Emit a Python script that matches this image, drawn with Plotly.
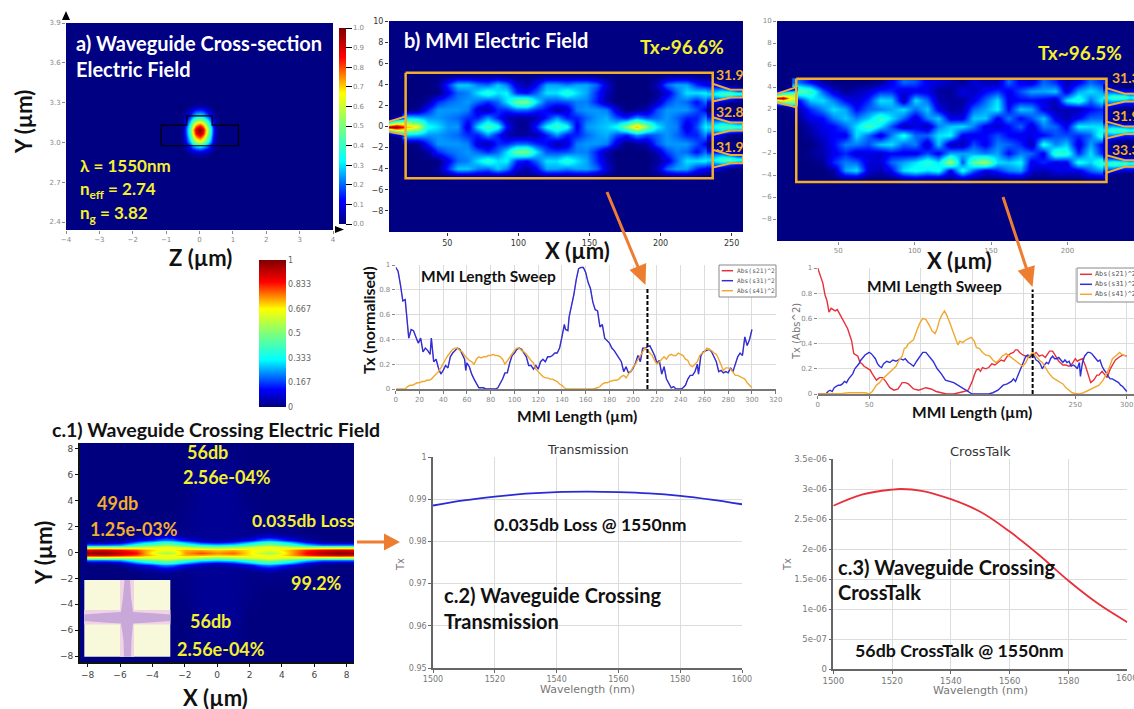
import plotly.graph_objects as go

W, H = 1134, 709
FONT = "Lato"
TICKF = "DejaVu Sans"
NAVY = "#000082"
YEL = "#f4f02a"
ORG = "#f2ad2a"
ARROW = "#ed7d31"

JET = [[0, "#00007f"], [0.12, "#0000ff"], [0.32, "#00ffff"], [0.5, "#7dff7a"],
       [0.667, "#ffff00"], [0.85, "#ff0000"], [1, "#7f0000"]]

# ---------- panel a: mode profile, percent ----------
A_Z = [-0.6, -0.5, -0.4, -0.3, -0.2, -0.1, 0, 0.1, 0.2, 0.3, 0.4, 0.5, 0.6]
A_Y = [3.28, 3.25, 3.22, 3.19, 3.16, 3.13, 3.10, 3.07, 3.04, 3.01, 2.98, 2.95, 2.92, 2.89]
A_F = [
    [0, 0, 0, 0, 1, 2, 2, 2, 1, 0, 0, 0, 0],
    [0, 0, 2, 5, 9, 12, 13, 12, 9, 5, 2, 0, 0],
    [0, 1, 4, 10, 17, 23, 25, 23, 17, 10, 4, 1, 0],
    [0, 2, 7, 16, 27, 34, 38, 34, 27, 16, 7, 2, 0],
    [0, 3, 11, 26, 43, 56, 62, 56, 43, 26, 11, 3, 0],
    [0, 3, 15, 35, 58, 75, 83, 75, 58, 35, 15, 3, 0],
    [0, 4, 18, 42, 70, 90, 100, 90, 70, 42, 18, 4, 0],
    [0, 4, 17, 40, 67, 86, 95, 86, 67, 40, 17, 4, 0],
    [0, 3, 14, 34, 56, 72, 80, 72, 56, 34, 14, 3, 0],
    [0, 3, 12, 27, 45, 58, 65, 58, 45, 27, 12, 3, 0],
    [0, 1, 6, 15, 25, 32, 36, 32, 25, 15, 6, 1, 0],
    [0, 1, 3, 8, 13, 16, 18, 16, 13, 8, 3, 1, 0],
    [0, 0, 1, 3, 4, 5, 6, 5, 4, 3, 1, 0, 0],
    [0, 0, 0, 0, 0, 1, 1, 1, 0, 0, 0, 0, 0],
]
WG_Z = [-1.15, -1.15, -0.38, -0.38, 0.38, 0.38, 1.17, 1.17, -1.15]
WG_Y = [2.975, 3.13, 3.13, 3.2, 3.2, 3.13, 3.13, 2.975, 2.975]

# ---------- panel b: symmetric MMI field, percent ----------
B_X = [22, 29, 36, 43, 50, 57, 64, 71, 78, 85, 92, 99, 106, 113, 120, 127, 134, 141, 148, 155,
       162, 169, 176, 183, 190, 197, 204, 211, 218, 225, 232, 236]
B_Y = [4.8, 4.0, 3.2, 2.4, 1.6, 0.8, 0]
B_F = [
    [0, 0, 0, 0, 1, 2, 2, 2, 2, 2, 1, 1, 1, 1, 2, 2, 2, 2, 2, 1, 0, 0, 0, 0, 0, 0, 1, 2, 2, 1, 1, 0],
    [0, 0, 0, 2, 15, 28, 28, 22, 20, 28, 22, 8, 4, 12, 25, 25, 22, 25, 25, 20, 8, 0, 0, 0, 0, 5, 20, 25, 25, 15, 10, 5],
    [0, 0, 0, 0, 10, 20, 22, 30, 38, 30, 32, 15, 12, 20, 30, 30, 38, 30, 25, 15, 5, 0, 0, 0, 0, 2, 8, 20, 30, 30, 32, 28],
    [0, 0, 3, 15, 20, 22, 24, 20, 15, 20, 30, 48, 50, 30, 18, 17, 18, 22, 22, 14, 4, 0, 0, 0, 0, 5, 17, 22, 20, 12, 22, 30],
    [0, 2, 14, 24, 24, 24, 22, 8, 5, 15, 15, 20, 20, 15, 12, 4, 8, 22, 24, 24, 22, 8, 0, 2, 5, 18, 24, 24, 24, 18, 10, 10],
    [30, 28, 24, 24, 22, 20, 15, 14, 24, 14, 5, 3, 3, 5, 14, 24, 14, 14, 20, 24, 26, 18, 14, 24, 18, 20, 24, 20, 14, 14, 25, 25],
    [72, 64, 34, 30, 24, 24, 8, 30, 42, 35, 12, 2, 2, 15, 33, 40, 35, 10, 24, 26, 28, 34, 52, 72, 52, 32, 24, 22, 8, 18, 34, 35],
]
B_IN_X = [9, 14, 19, 21]
B_IN_Y = [0.8, 0.4, 0]
B_IN_F = [[0, 5, 15, 20], [30, 50, 55, 60], [95, 100, 85, 75]]
B_OUT_X = [236, 243, 249, 254, 258]
B_OUT_Y = [4.0, 3.5, 3.1, 2.7, 2.3, 1.6, 0.8, 0.4, 0]
B_OUT_F = [
    [10, 5, 0, 0, 0], [22, 25, 20, 12, 10], [30, 42, 45, 38, 40], [22, 25, 20, 12, 10], [10, 5, 0, 0, 0],
    [0, 0, 0, 0, 0], [15, 8, 0, 0, 0], [25, 30, 25, 20, 20], [30, 42, 42, 38, 42],
]
B_RECT_X = [20.7, 236.7, 236.7, 20.7, 20.7]
B_RECT_Y = [5.1, 5.1, -4.9, -4.9, 5.1]
B_TAPER_X = [[9, 20.7], [9, 20.7]]
B_TAPER_Y = [[0.47, 0.95], [-0.47, -0.8]]
B_PORT_X = [236.7, 249.1, 258, 258, 249.1, 236.7]
B_PORT_Y = [[4.05, 3.48, 3.48, 2.75, 2.75, 2.37], [0.88, 0.38, 0.38, -0.38, -0.38, -0.8],
            [-2.2, -2.7, -2.7, -3.48, -3.48, -3.9]]

# ---------- panel b2: asymmetric MMI field, percent ----------
R_X = [24, 32, 39.4, 47, 54.6, 62, 70, 77.5, 85, 92.7, 100.4, 108, 115.6, 123.3, 131, 138.5, 146,
       153.8, 161.4, 169, 176.6, 184.2, 191.8, 199.5, 207, 214.8, 222.4]
R_Y = [4.4, 3.6, 2.8, 2.0, 1.2, 0.4, -0.4, -1.2, -2.0, -2.8, -3.6, -4.4]
R_F = [
    [20, 12, 3, 0, 0, 0, 0, 2, 10, 20, 18, 10, 8, 5, 2, 8, 5, 5, 20, 10, 8, 20, 15, 5, 10, 20, 15],
    [45, 40, 20, 8, 2, 5, 8, 15, 15, 8, 10, 10, 3, 2, 10, 6, 12, 16, 10, 18, 25, 25, 28, 8, 25, 30, 25],
    [12, 28, 30, 22, 12, 8, 15, 30, 28, 5, 30, 20, 5, 3, 3, 10, 20, 30, 10, 12, 12, 10, 5, 30, 38, 20, 32],
    [5, 15, 22, 30, 25, 12, 20, 22, 25, 30, 20, 28, 10, 3, 5, 20, 25, 32, 12, 28, 25, 10, 5, 5, 5, 12, 15],
    [2, 10, 12, 22, 28, 22, 28, 40, 30, 20, 8, 22, 28, 10, 10, 28, 28, 10, 22, 12, 18, 28, 10, 5, 12, 20, 20],
    [0, 5, 10, 12, 20, 30, 42, 30, 18, 5, 10, 5, 22, 28, 30, 22, 10, 8, 12, 20, 8, 22, 20, 10, 32, 30, 30],
    [0, 3, 8, 12, 10, 30, 20, 8, 22, 35, 20, 20, 30, 32, 10, 10, 12, 18, 12, 10, 10, 12, 18, 18, 15, 20, 38],
    [0, 0, 5, 12, 22, 22, 18, 28, 30, 20, 22, 6, 28, 5, 5, 18, 10, 22, 20, 15, 5, 35, 22, 28, 8, 25, 12],
    [0, 2, 5, 10, 15, 8, 10, 8, 12, 10, 10, 18, 10, 25, 25, 25, 22, 25, 12, 22, 20, 10, 40, 38, 15, 30, 15],
    [0, 0, 2, 15, 22, 20, 8, 8, 20, 25, 30, 38, 30, 55, 18, 45, 55, 30, 28, 32, 10, 15, 10, 10, 35, 28, 40],
    [0, 0, 0, 3, 25, 30, 8, 5, 12, 30, 35, 30, 35, 10, 35, 20, 10, 15, 22, 25, 8, 5, 10, 10, 10, 20, 25],
    [0, 0, 0, 0, 2, 2, 0, 0, 0, 3, 5, 3, 2, 2, 5, 2, 0, 0, 2, 2, 0, 0, 0, 0, 0, 3, 3],
]
R_IN_X = [10, 14, 18, 22]
R_IN_Y = [3.8, 3.4, 3.0, 2.6, 2.2]
R_IN_F = [[0, 0, 5, 10], [30, 45, 50, 50], [88, 95, 70, 60], [30, 45, 50, 50], [0, 0, 5, 10]]
R_OUT_X = [225.5, 230, 237, 241, 245]
R_OUT_Y = [4.0, 3.5, 3.04, 2.6, 2.1, 0.9, 0.5, 0.05, -0.4, -0.9, -2.2, -2.6, -2.96, -3.4, -3.8]
R_OUT_F = [
    [8, 3, 0, 0, 0], [22, 22, 15, 15, 15], [32, 40, 42, 32, 38], [22, 22, 15, 15, 15], [8, 3, 0, 0, 0],
    [8, 3, 0, 0, 0], [22, 22, 15, 15, 15], [32, 42, 42, 35, 38], [22, 22, 15, 15, 15], [8, 3, 0, 0, 0],
    [8, 3, 0, 0, 0], [22, 22, 15, 15, 15], [35, 42, 44, 35, 40], [22, 22, 15, 15, 15], [8, 3, 0, 0, 0],
]
R_RECT_X = [22.6, 225.5, 225.5, 22.6, 22.6]
R_RECT_Y = [4.75, 4.75, -4.63, -4.63, 4.75]
R_TAPER_X = [[10, 22.6], [10, 22.6]]
R_TAPER_Y = [[3.38, 3.99], [2.59, 2.16]]
R_PORT_X = [225.5, 237.5, 245, 245, 237.5, 225.5]
R_PORT_Y = [[3.9, 3.38, 3.38, 2.68, 2.68, 2.3], [0.85, 0.4, 0.4, -0.27, -0.27, -0.67],
            [-2.2, -2.65, -2.65, -3.26, -3.26, -3.8]]

# ---------- MMI length sweeps ----------
L_BLUE = [(0,.98),(2,.95),(4,.84),(6,.71),(8,.72),(10,.52),(11,.41),(13,.48),(15,.47),(17,.42),(19,.37),(21,.41),
 (23,.30),(25,.33),(27,.31),(29,.28),(30,.41),(32,.22),(34,.24),(36,.17),(38,.12),(40,.15),(42,.19),(44,.17),(46,.26),
 (48,.29),(50,.31),(52,.33),(54,.32),(56,.28),(58,.24),(59,.15),(60,.21),(62,.18),(64,.12),(66,.08),(68,.04),(70,.01),
 (72,.01),(74,.01),(76,0),(80,0),(84,0),(86,.01),(88,.04),(90,.08),(92,.13),(94,.13),(96,.21),(98,.27),(100,.29),
 (102,.32),(104,.33),(106,.32),(108,.29),(110,.26),(112,.19),(114,.19),(116,.16),(118,.19),(120,.16),(122,.22),(124,.24),
 (126,.22),(128,.26),(130,.26),(132,.27),(134,.29),(136,.29),(138,.33),(140,.42),(142,.52),(143,.48),(145,.47),(146,.58),
 (148,.66),(150,.76),(152,.88),(154,.97),(156,.98),(158,.98),(160,.94),(162,.86),(164,.81),(166,.70),(168,.64),(170,.63),
 (172,.50),(174,.52),(176,.41),(178,.39),(180,.37),(182,.33),(184,.31),(186,.28),(188,.25),(190,.22),(192,.14),(194,.18),
 (196,.13),(198,.14),(200,.17),(202,.21),(204,.27),(206,.22),(208,.33),(210,.33),(212,.34),(214,.35),(216,.31),(218,.27),
 (220,.21),(222,.23),(224,.12),(226,.18),(228,.08),(230,.04),(232,.01),(234,.02),(236,0),(240,0),(242,.01),(244,.03),
 (246,.08),(248,.11),(250,.11),(252,.14),(254,.2),(255,.12),(257,.27),(259,.3),(262,.31),(264,.32),(266,.3),(268,.26),
 (270,.22),(272,.14),(274,.15),(276,.13),(278,.14),(280,.13),(282,.17),(284,.14),(286,.21),(288,.26),(290,.29),(292,.27),
 (294,.42),(296,.35),(298,.40),(300,.48)]
L_ORANGE = [(0,0),(8,0),(10,.02),(12,.03),(14,.03),(16,.04),(18,.05),(20,.05),(22,.06),(24,.06),(26,.07),(28,.07),(30,.08),
 (32,.1),(34,.12),(36,.14),(38,.17),(40,.21),(42,.24),(44,.27),(46,.3),(48,.32),(50,.33),(52,.33),(54,.31),(56,.3),(58,.27),
 (60,.25),(62,.23),(64,.22),(66,.2),(68,.24),(70,.26),(72,.25),(74,.26),(76,.26),(78,.27),(80,.27),(82,.28),(84,.27),(86,.27),
 (88,.26),(90,.24),(92,.2),(94,.23),(96,.26),(98,.29),(100,.31),(102,.33),(104,.33),(106,.31),(108,.3),(110,.28),(112,.25),
 (114,.23),(116,.21),(118,.16),(120,.14),(122,.12),(124,.1),(126,.09),(128,.09),(130,.08),(132,.08),(134,.07),(136,.06),
 (138,.04),(140,.03),(142,.01),(144,0),(150,0),(160,0),(166,0),(170,.01),(172,.02),(174,.04),(176,.05),(178,.05),(180,.06),
 (184,.07),(186,.07),(188,.08),(190,.1),(192,.11),(194,.09),(196,.12),(198,.14),(200,.18),(202,.2),(204,.24),(206,.27),
 (208,.31),(210,.33),(212,.31),(214,.29),(216,.27),(218,.23),(220,.2),(222,.22),(224,.24),(226,.26),(228,.24),(230,.27),
 (232,.28),(234,.27),(236,.27),(238,.29),(240,.28),(242,.27),(244,.24),(246,.23),(248,.19),(250,.18),(252,.2),(254,.22),
 (256,.27),(258,.29),(260,.3),(262,.33),(264,.32),(266,.31),(268,.29),(270,.28),(272,.24),(274,.19),(276,.15),(278,.17),
 (280,.17),(282,.16),(284,.13),(286,.11),(288,.11),(290,.1),(292,.09),(294,.08),(296,.05),(298,.03),(300,.01)]
S_RED = [(0,1.0),(3,.93),(5,.88),(7,.79),(9,.74),(11,.65),(13,.68),(15,.67),(17,.66),(19,.67),(21,.64),(23,.62),(25,.58),
 (27,.55),(29,.52),(31,.47),(33,.42),(35,.32),(37,.31),(39,.3),(41,.25),(43,.24),(45,.22),(47,.21),(49,.2),(51,.19),(53,.16),
 (55,.13),(57,.11),(60,.13),(63,.13),(66,.1),(70,.05),(74,.03),(78,.04),(82,.09),(85,.09),(88,.08),(93,.04),(98,.03),(105,.05),
 (110,.04),(115,.02),(120,.01),(125,0),(132,0),(138,.01),(142,.02),(146,.03),(148,.06),(150,.1),(152,.15),(154,.19),(156,.2),
 (158,.18),(160,.21),(163,.2),(166,.21),(169,.24),(172,.23),(175,.25),(178,.27),(181,.26),(184,.3),(187,.32),(190,.33),(192,.35),
 (194,.35),(196,.33),(199,.31),(202,.3),(205,.29),(209,.31),(212,.33),(215,.3),(218,.31),(221,.29),(225,.34),(228,.34),(231,.3),
 (234,.26),(238,.23),(241,.23),(244,.22),(247,.24),(250,.28),(252,.26),(254,.27),(257,.28),(260,.22),(262,.17),(265,.09),
 (268,.11),(271,.15),(273,.15),(276,.18),(279,.15),(281,.13),(284,.2),(287,.25),(289,.27),(292,.29),(296,.31),(300,.3)]
S_BLUE = [(0,0),(8,0),(10,.02),(12,.03),(14,.02),(16,.05),(18,.06),(20,.07),(22,.07),(24,.08),(26,.1),(28,.09),(30,.12),
 (32,.14),(34,.16),(36,.2),(38,.22),(40,.24),(42,.27),(44,.29),(46,.31),(48,.32),(50,.33),(52,.32),(54,.3),(56,.28),(58,.24),
 (60,.22),(62,.21),(64,.24),(67,.26),(70,.25),(73,.27),(76,.26),(80,.28),(83,.27),(85,.28),(88,.25),(90,.24),(93,.22),(96,.26),
 (99,.3),(102,.33),(105,.33),(108,.3),(112,.26),(116,.2),(120,.16),(124,.11),(128,.1),(132,.09),(136,.07),(140,.05),(144,.03),
 (148,.01),(150,0),(166,0),(170,.01),(175,.03),(180,.07),(184,.08),(188,.1),(190,.12),(192,.1),(194,.14),(196,.18),(198,.22),
 (200,.25),(202,.3),(204,.31),(206,.29),(208,.32),(210,.3),(212,.27),(214,.26),(216,.24),(218,.2),(220,.23),(222,.25),(224,.24),
 (226,.28),(228,.3),(230,.28),(232,.28),(234,.29),(236,.27),(238,.25),(240,.27),(242,.25),(244,.26),(246,.22),(248,.23),(250,.22),
 (252,.2),(254,.25),(255,.14),(257,.25),(259,.3),(262,.33),(264,.33),(266,.32),(268,.3),(270,.28),(272,.26),(274,.27),(276,.22),
 (278,.19),(280,.17),(282,.14),(284,.12),(286,.12),(288,.11),(290,.1),(292,.09),(294,.07),(296,.06),(298,.04),(300,.02)]
S_ORANGE = [(0,0),(18,0),(24,.005),(30,.01),(38,.01),(46,.01),(50,0),(53,.02),(57,.07),(60,.09),(63,.12),(67,.15),(70,.17),
 (73,.2),(76,.22),(79,.27),(82,.3),(84,.36),(86,.37),(88,.4),(90,.41),(93,.43),(96,.5),(99,.56),(102,.6),(105,.59),(108,.55),
 (111,.5),(114,.48),(116,.52),(118,.58),(120,.62),(123,.66),(125,.63),(128,.57),(131,.5),(134,.44),(136,.39),(138,.42),(141,.41),
 (144,.43),(147,.44),(149,.45),(152,.42),(154,.37),(157,.36),(160,.33),(163,.31),(167,.3),(170,.27),(173,.25),(176,.27),(179,.3),
 (183,.32),(186,.3),(189,.28),(192,.26),(195,.24),(199,.22),(202,.25),(205,.3),(209,.33),(212,.3),(215,.27),(218,.25),(221,.21),
 (224,.17),(228,.13),(232,.11),(235,.09),(238,.08),(241,.05),(244,.03),(247,.01),(250,.005),(254,0),(258,.01),(263,.03),(268,.05),
 (273,.07),(277,.11),(281,.17),(284,.23),(286,.28),(289,.3),(293,.33),(296,.31),(300,.3)]
MARK_L = 212
MARK_R = 208.6

# ---------- waveguide crossing field (symmetric about y=0), percent ----------
C_X = [-8.02, -8, -7, -6, -5, -4.5, -4, -3.5, -3.2, -2.8, -2, -1, 0, 1, 2, 2.8, 3.2, 3.6, 4.5, 5.5, 6.5, 7.5, 8.45]
C_Y = [0, 0.2, 0.4, 0.6, 0.8, 1.0, 1.3, 1.6, 3, 5, 8.4]
C_F = [
    [0, 98, 100, 92, 85, 75, 66, 58, 55, 56, 74, 80, 75, 78, 68, 58, 55, 58, 72, 85, 95, 100, 98],
    [0, 88, 90, 85, 80, 74, 70, 66, 65, 66, 72, 73, 70, 72, 68, 65, 63, 65, 72, 82, 87, 90, 88],
    [0, 55, 55, 55, 58, 60, 62, 64, 66, 64, 60, 54, 50, 54, 60, 64, 66, 64, 60, 55, 55, 55, 55],
    [0, 22, 22, 25, 38, 43, 46, 50, 52, 50, 42, 33, 30, 33, 42, 50, 52, 50, 42, 30, 22, 22, 22],
    [0, 3, 3, 6, 20, 26, 30, 36, 38, 36, 25, 14, 10, 14, 25, 36, 38, 36, 26, 12, 4, 3, 3],
    [0, 0, 0, 1, 8, 11, 14, 20, 22, 20, 10, 5, 3, 5, 10, 20, 22, 20, 11, 4, 1, 0, 0],
    [0, 0, 0, 0, 2, 3, 4, 7, 8, 7, 3, 2, 2, 2, 3, 7, 8, 7, 3, 1, 0, 0, 0],
    [0, 0, 0, 0, 0, 1, 1, 1, 2, 1, 1, 2, 2, 2, 1, 1, 2, 1, 1, 0, 0, 0, 0],
    [0, 0, 0, 0, 0, 0, 0, 0, 0, 0, 1, 2, 2, 2, 1, 0, 0, 0, 0, 0, 0, 0, 0],
    [0, 0, 0, 0, 0, 0, 0, 0, 0, 0, 0, 2, 2, 2, 0, 0, 0, 0, 0, 0, 0, 0, 0],
    [0, 0, 0, 0, 0, 0, 0, 0, 0, 0, 0, 0, 0, 0, 0, 0, 0, 0, 0, 0, 0, 0, 0],
]

# ---------- spectra ----------
WL_TX = [1500, 1510, 1520, 1530, 1540, 1550, 1560, 1570, 1580, 1590, 1600]
TX = [.9885, .9897, .9906, .9913, .9917, .9918, .9917, .9914, .9908, .9899, .9888]
WL_CT = [1500, 1510, 1520, 1523, 1530, 1540, 1550, 1560, 1570, 1580, 1590, 1600]
CT = [2.72e-6, 2.91e-6, 2.99e-6, 3.0e-6, 2.97e-6, 2.83e-6, 2.62e-6, 2.29e-6, 1.9e-6, 1.47e-6, 1.09e-6, 0.78e-6]

CB_VALS = [0, 0.167, 0.333, 0.5, 0.667, 0.833, 1]
CB_TEXT = ["0", "0.167", "0.333", "0.5", "0.667", "0.833", "1"]
A_CB_VALS = [0, .1, .2, .3, .4, .5, .6, .7, .8, .9, 1]
A_CB_TEXT = ["0.0", "0.1", "0.2", "0.3", "0.4", "0.5", "0.6", "0.7", "0.8", "0.9", "1.0"]
SERIES = ["Abs(s21)^2", "Abs(s31)^2", "Abs(s41)^2"]
LINE_COL = ["#e8303a", "#2f2fd8", "#f0a830"]


def px(x):
    return x / W


def py(y):
    return 1 - y / H


def pct(rows):
    return [[v / 100 for v in r] for r in rows]


def mirror(ys, rows):
    pairs = sorted(zip(ys, rows), key=lambda p: p[0])
    yy = [-p[0] for p in reversed(pairs) if p[0] != 0] + [p[0] for p in pairs]
    rr = [p[1] for p in reversed(pairs) if p[0] != 0] + [p[1] for p in pairs]
    return yy, rr


fig = go.Figure()
layout = {}
shapes = []
ann = []


def axes(n, box, xr, yr, xtick, ytick, tcol="#777", tsize=8, xtext=None, ytext=None,
         grid=False, xline=None, yline=None, gridcol="#dcdcdc", tickfam=TICKF, minor_x=None):
    x0, y0, x1, y1 = box
    s = "" if n == 1 else str(n)
    lw = 2 if xline == "#111" else 1.5
    layout["xaxis" + s] = dict(domain=[px(x0), px(x1)], range=xr, anchor="y" + s, tickvals=xtick,
                               ticktext=xtext, showgrid=grid, gridcolor=gridcol, gridwidth=1,
                               zeroline=False, showline=bool(xline), linecolor=xline or "#000", linewidth=lw,
                               ticks="outside", ticklen=3, tickcolor=xline or tcol,
                               tickfont=dict(family=tickfam, size=tsize, color=tcol), automargin=False)
    if minor_x:
        layout["xaxis" + s]["minor"] = dict(tickvals=minor_x, showgrid=True, gridcolor=gridcol, ticks="")
    layout["yaxis" + s] = dict(domain=[py(y1), py(y0)], range=yr, anchor="x" + s, tickvals=ytick,
                               ticktext=ytext, showgrid=grid, gridcolor=gridcol, gridwidth=1,
                               zeroline=False, showline=bool(yline), linecolor=yline or "#000", linewidth=lw,
                               ticks="outside", ticklen=3, tickcolor=yline or tcol,
                               tickfont=dict(family=tickfam, size=tsize, color=tcol), automargin=False)
    return "x" + s, "y" + s


def heat(x, y, z, xa, ya, colorbar=None):
    fig.add_trace(go.Heatmap(x=x, y=y, z=pct(z), xaxis=xa, yaxis=ya, colorscale=JET, zmin=0, zmax=1,
                             zsmooth="best", showscale=bool(colorbar), colorbar=colorbar, hoverinfo="skip"))


def line(x, y, xa, ya, color, width=1.3, name=None, dash=None, shape=None):
    fig.add_trace(go.Scatter(x=x, y=y, xaxis=xa, yaxis=ya, mode="lines", name=name, showlegend=False,
                             line=dict(color=color, width=width, dash=dash, shape=shape or "linear")))


def navy(xa, ya, xr, yr):
    shapes.append(dict(type="rect", xref=xa, yref=ya, x0=xr[0], x1=xr[1], y0=yr[0], y1=yr[1],
                       fillcolor=NAVY, line_width=0, layer="below"))


def T(text, x, y, size, color="#111", anchor="left", bold=True, angle=None, fam=FONT):
    ann.append(dict(text=f"<b>{text}</b>" if bold else text, x=px(x), y=py(y), xref="paper", yref="paper",
                    xanchor=anchor, yanchor="middle", showarrow=False, textangle=angle or 0,
                    font=dict(family=fam, size=size, color=color)))


def poly(pts, color):
    d = "M " + " L ".join(f"{px(a):.5f},{py(b):.5f}" for a, b in pts) + " Z"
    shapes.append(dict(type="path", path=d, xref="paper", yref="paper", fillcolor=color, line_width=0, layer="above"))


def arrow(x0, y0, x1, y1, w, hl, hw):
    dx, dy = x1 - x0, y1 - y0
    n = (dx * dx + dy * dy) ** 0.5
    ux, uy = dx / n, dy / n
    nx, ny = -uy, ux
    bx, by = x1 - ux * hl, y1 - uy * hl
    poly([(x0 + nx * w / 2, y0 + ny * w / 2), (bx + nx * w / 2, by + ny * w / 2), (bx + nx * hw, by + ny * hw),
          (x1, y1), (bx - nx * hw, by - ny * hw), (bx - nx * w / 2, by - ny * w / 2),
          (x0 - nx * w / 2, y0 - ny * w / 2)], color=ARROW)


# --- a ---
xr, yr = [-4, 4], [2.34, 3.9]
xa, ya = axes(1, (66, 23, 333, 230), xr, yr, [-4, -3, -2, -1, 0, 1, 2, 3, 4], [2.4, 2.7, 3.0, 3.3, 3.6, 3.9],
              tcol="#888", tsize=7, ytext=["2.4", "2.7", "3.0", "3.3", "3.6", "3.9"])
navy(xa, ya, xr, yr)
heat(A_Z, A_Y, A_F, xa, ya, colorbar=dict(x=px(339), xanchor="left", y=py(224), yanchor="bottom", lenmode="pixels",
                                          len=196, thicknessmode="pixels", thickness=7, xpad=0, ypad=0, outlinewidth=0,
                                          tickvals=A_CB_VALS, ticktext=A_CB_TEXT, ticks="outside", ticklen=6,
                                          tickcolor="#000", tickfont=dict(family=TICKF, size=7, color="#888")))
line(WG_Z, WG_Y, xa, ya, "#000", 1.2)

# --- b ---
xr, yr = [9, 258], [-10, 10]
xa, ya = axes(2, (389, 21, 743, 232), xr, yr, [50, 100, 150, 200, 250], [-8, -6, -4, -2, 0, 2, 4, 6, 8, 10],
              tcol="#333", tsize=8)
navy(xa, ya, xr, yr)
yy, rr = mirror(B_Y, B_F)
heat(B_X, yy, rr, xa, ya, colorbar=dict(x=px(259), xanchor="left", y=py(407), yanchor="bottom", lenmode="pixels",
                                        len=147, thicknessmode="pixels", thickness=27, xpad=0, ypad=0, outlinewidth=0,
                                        tickvals=CB_VALS, ticktext=CB_TEXT, ticks="",
                                        tickfont=dict(family=TICKF, size=8, color="#666")))
yy, rr = mirror(B_IN_Y, B_IN_F)
heat(B_IN_X, yy, rr, xa, ya)
yy, rr = mirror(B_OUT_Y, B_OUT_F)
heat(B_OUT_X, yy, rr, xa, ya)
line(B_RECT_X, B_RECT_Y, xa, ya, ORG, 2.5)
for tx, ty in zip(B_TAPER_X, B_TAPER_Y):
    line(tx, ty, xa, ya, ORG, 2)
for ty in B_PORT_Y:
    line(B_PORT_X, ty, xa, ya, ORG, 2)

# --- b2 ---
xr, yr = [10, 243.5], [-10, 10]
xa, ya = axes(3, (777, 21, 1134, 241), xr, yr, [50, 100, 150, 200], [-8, -6, -4, -2, 0, 2, 4, 6, 8, 10],
              tcol="#888", tsize=7)
navy(xa, ya, xr, yr)
heat(R_X, R_Y, R_F, xa, ya)
heat(R_IN_X, R_IN_Y, R_IN_F, xa, ya)
heat(R_OUT_X, R_OUT_Y, R_OUT_F, xa, ya)
line(R_RECT_X, R_RECT_Y, xa, ya, ORG, 2.5)
for tx, ty in zip(R_TAPER_X, R_TAPER_Y):
    line(tx, ty, xa, ya, ORG, 2)
for ty in R_PORT_Y:
    line(R_PORT_X, ty, xa, ya, ORG, 2)

# --- sweep left ---
xr, yr = [0, 320], [0, 1]
xa, ya = axes(4, (395.7, 265, 775.7, 389), xr, yr, list(range(0, 321, 20)), [0, .2, .4, .6, .8, 1],
              tcol="#888", tsize=7, grid=True, xline="#777", ytext=["0", "0.2", "0.4", "0.6", "0.8", "1"])
shapes.append(dict(type="rect", xref=xa, yref=ya, x0=0.5, x1=320, y0=0.805, y1=1, fillcolor="#fff", line_width=0, layer="below"))
lx, ly = zip(*L_BLUE)
line(lx, ly, xa, ya, LINE_COL[0], 0.5, SERIES[0])
line(lx, ly, xa, ya, LINE_COL[1], 1.4, SERIES[1])
ox, oy = zip(*L_ORANGE)
line(ox, oy, xa, ya, LINE_COL[2], 1.4, SERIES[2])
line([MARK_L, MARK_L], [0, 0.81], xa, ya, "#000", 2, dash="4px,2px")

# --- sweep right ---
xr, yr = [0, 307], [0, 1]
xa, ya = axes(5, (817.7, 268, 1134, 394), xr, yr, [0, 50, 250, 300], [0, .2, .4, .6, .8, 1],
              tcol="#888", tsize=7, grid=True, xline="#777", minor_x=[100, 150, 200],
              ytext=["0", "0.2", "0.4", "0.6", "0.8", "1"])
shapes.append(dict(type="rect", xref=xa, yref=ya, x0=0.5, x1=307, y0=0.81, y1=1, fillcolor="#fff", line_width=0, layer="below"))
for data, col, nm in zip((S_RED, S_BLUE, S_ORANGE), LINE_COL, SERIES):
    sx, sy = zip(*data)
    line(sx, sy, xa, ya, col, 1.4, nm)
line([MARK_R, MARK_R], [0, 0.83], xa, ya, "#000", 2, dash="4px,2px")

# --- c1 ---
xr, yr = [-8.47, 8.45], [-8.46, 8.46]
xa, ya = axes(6, (80, 443, 354, 662), xr, yr, [-8, -6, -4, -2, 0, 2, 4, 6, 8], [-8, -6, -4, -2, 0, 2, 4, 6, 8],
              tcol="#444", tsize=9, xline="#111", yline="#111")
navy(xa, ya, xr, yr)
yy, rr = mirror(C_Y, C_F)
heat(C_X, yy, rr, xa, ya)

# --- c2 ---
xr, yr = [1500, 1600], [0.95, 1]
xa, ya = axes(7, (433, 457, 742, 668), xr, yr, [1500, 1520, 1540, 1560, 1580, 1600], [.95, .96, .97, .98, .99, 1],
              tcol="#777", tsize=8, grid=True, xline="#666", yline="#666",
              ytext=["0.95", "0.96", "0.97", "0.98", "0.99", "1"])
line(WL_TX, TX, xa, ya, "#2a2ad6", 1.8, shape="spline")

# --- c3 ---
xr, yr = [1500, 1600], [0, 3.5e-6]
xa, ya = axes(8, (833.3, 459, 1127.3, 669), xr, yr, [1500, 1520, 1540, 1560, 1580],
              [0, .5e-6, 1e-6, 1.5e-6, 2e-6, 2.5e-6, 3e-6, 3.5e-6],
              tcol="#777", tsize=8.5, grid=True, xline="#666", yline="#666", minor_x=[1600],
              ytext=["0", "5e-07", "1e-06", "1.5e-06", "2e-06", "2.5e-06", "3e-06", "3.5e-06"])
line(WL_CT, CT, xa, ya, "#e8303a", 1.8, shape="spline")

# ---------- text ----------
T("a) Waveguide Cross-section", 74, 43, 20, "#fff")
T("Electric Field", 74, 69, 20, "#fff")
T("λ = 1550nm", 78, 166, 17, YEL)
T("n<sub>eff</sub> = 2.74", 78, 190, 17, YEL)
T("n<sub>g</sub> = 3.82", 78, 214, 17, YEL)
T("Y (µm)", 24, 122, 22, angle=-90, anchor="center")
T("Z (µm)", 200, 257, 22, anchor="center")

T("b) MMI Electric Field", 402, 40, 20, "#fff")
T("Tx~96.6%", 638, 46, 19, YEL)
T("31.9", 714, 74, 14, ORG)
T("32.8", 714, 112, 14, ORG)
T("31.9", 714, 146, 14, ORG)
T("X (µm)", 577, 250, 22, anchor="center")
T("Tx~96.5%", 1036, 53, 19, YEL)
T("31.3", 1110, 77, 14, ORG)
T("31.9", 1110, 116, 14, ORG)
T("33.3", 1110, 149, 14, ORG)
T("X (µm)", 959, 260, 22, anchor="center")

T("MMI Length Sweep", 419, 276, 15.5)
T("MMI Length (µm)", 577, 416, 15.5, anchor="center")
T("Tx (normalised)", 368, 320, 16, angle=-90, anchor="center")
T("MMI Length Sweep", 865, 286, 15.5)
T("MMI Length (µm)", 972, 412, 15.5, anchor="center")
T("Tx (Abs^2)", 797, 332, 10, "#777", angle=-90, anchor="center", bold=False, fam=TICKF)

T("c.1) Waveguide Crossing Electric Field", 50, 430, 19.5)
T("56db", 207, 452, 18, YEL, "center")
T("2.56e-04%", 227, 477, 18, YEL, "center")
T("49db", 117, 503, 18, ORG, "center")
T("1.25e-03%", 134, 529, 18, ORG, "center")
T("0.035db Loss", 303, 520, 17.4, YEL, "center")
T("99.2%", 316, 583, 18, YEL, "center")
T("56db", 210, 621, 18, YEL, "center")
T("2.56e-04%", 221, 649, 18, YEL, "center")
T("Y (µm)", 43, 553, 22, angle=-90, anchor="center")
T("X (µm)", 215, 697, 22, anchor="center")

T("Transmission", 588, 449, 12.5, "#333", "center", bold=False, fam=TICKF)
T("Wavelength (nm)", 587, 689, 11, "#777", "center", bold=False, fam=TICKF)
T("Tx", 400, 565, 10, "#777", "center", bold=False, angle=-90, fam=TICKF)
T("0.035db Loss @ 1550nm", 492, 524, 17.6)
T("c.2) Waveguide Crossing", 442, 595, 20)
T("Transmission", 442, 621, 20)

T("CrossTalk", 980, 451, 13, "#333", "center", bold=False, fam=TICKF)
T("Wavelength (nm)", 980, 690, 11, "#777", "center", bold=False, fam=TICKF)
T("Tx", 787, 565, 10, "#777", "center", bold=False, angle=-90, fam=TICKF)
T("1600", 1127, 678, 8.5, "#777", "center", bold=False, fam=TICKF)
T("c.3) Waveguide Crossing", 836, 567, 20)
T("CrossTalk", 836, 592, 20)
T("56db CrossTalk @ 1550nm", 853, 650, 17.8)

# ---------- drawn legends ----------
for box, rows, lx0, lx1, tx0, fs in (((719, 265, 776, 297), (270.7, 280.7, 290.7), 721.7, 733, 734.5, 6.3),
                                     ((1077, 268, 1136, 302), (274.3, 284.3, 294.3), 1080, 1092, 1093, 6.8)):
    shapes.append(dict(type="rect", xref="paper", yref="paper", x0=px(box[0]), x1=px(box[2]), y0=py(box[3]), y1=py(box[1]),
                       fillcolor="#fff", line=dict(color="#888", width=1), layer="above"))
    for ry, col, nm in zip(rows, LINE_COL, SERIES):
        shapes.append(dict(type="line", xref="paper", yref="paper", x0=px(lx0), x1=px(lx1), y0=py(ry), y1=py(ry),
                           line=dict(color=col, width=1.5), layer="above"))
        T(nm, tx0, ry, fs, "#555", bold=False, fam="DejaVu Sans Mono")

# ---------- arrows ----------
arrow(607, 192, 645.5, 285, 3, 20, 9)
arrow(1003, 197, 1032.5, 287, 3, 20, 9)
arrow(357, 542, 400, 542, 3, 16, 8.5)

# small axis pointers on panel a
poly([(62, 20), (70, 20), (66, 11)], "#000")
poly([(335, 226), (335, 233), (344, 229.5)], "#000")

# ---------- inset crossing layout ----------
shapes.append(dict(type="rect", xref="paper", yref="paper", x0=px(84.3), x1=px(170.3), y0=py(656.7), y1=py(580),
                   fillcolor="#f8f8da", line_width=0, layer="above"))
shapes.append(dict(type="rect", xref="paper", yref="paper", x0=px(120), x1=px(134), y0=py(656.7), y1=py(580),
                   fillcolor="#f0d4e4", line_width=0, layer="above"))
shapes.append(dict(type="rect", xref="paper", yref="paper", x0=px(84.3), x1=px(170.3), y0=py(624.5), y1=py(610),
                   fillcolor="#f0d4e4", line_width=0, layer="above"))
poly([(124.5, 580), (130, 580), (131, 597), (133, 612), (150, 613), (170.3, 614.5), (170.3, 621), (150, 622.5),
      (133, 623.5), (131.5, 640), (131, 656.7), (124, 656.7), (123.5, 640), (121, 623.5), (104, 622.5), (84.3, 621),
      (84.3, 614.5), (104, 613), (121, 612), (123, 597)], "#c8a8d8")

fig.update_layout(width=W, height=H, margin=dict(l=0, r=0, t=0, b=0), paper_bgcolor="#fff", plot_bgcolor="#fff",
                  showlegend=False, shapes=shapes, annotations=ann, font=dict(family=FONT), **layout)
fig.write_html("out.html", config={"displayModeBar": False},
               post_script="document.body.style.margin='0';document.body.style.overflow='hidden';")
